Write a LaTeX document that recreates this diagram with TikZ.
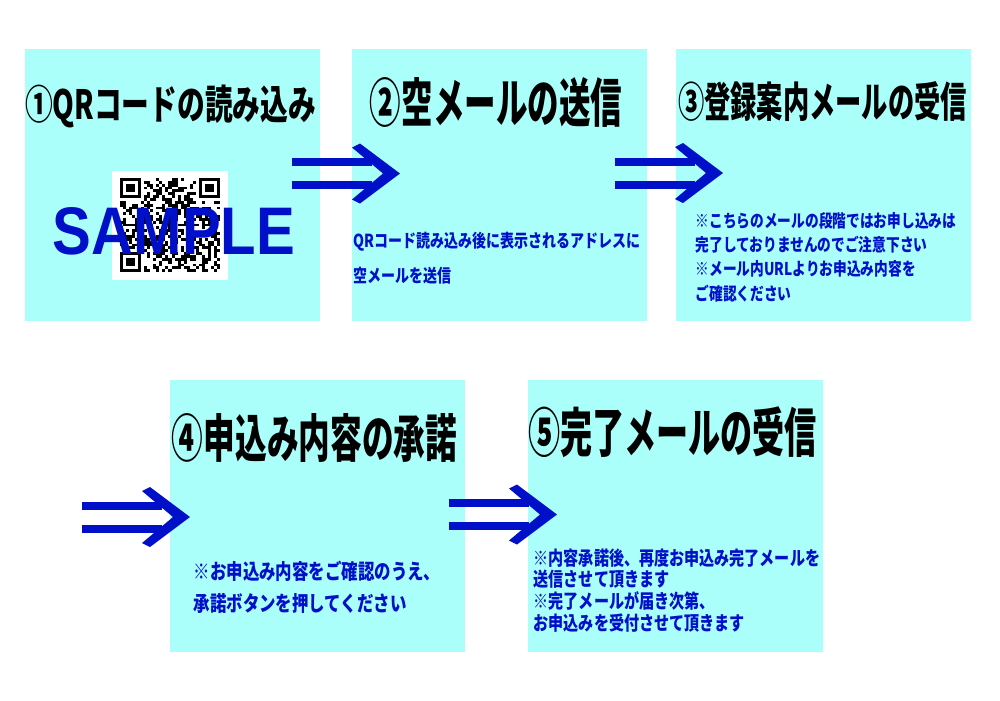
\documentclass[tikz,border=0pt]{standalone}
\usepackage{fontspec,graphicx}
\usetikzlibrary{positioning}
\setmainfont{Liberation Sans}
\newfontfamily\jptitle[FakeStretch=0.62]{Noto Sans CJK JP}
\newfontfamily\jpbody[FakeStretch=0.78]{Noto Sans CJK JP}
\definecolor{stepC}{RGB}{170,255,250}
\definecolor{stepB}{RGB}{0,16,200}
\newcommand{\steptitle}[3]{\resizebox*{#1}{#2}{\jptitle\bfseries #3}}

\begin{document}
\begin{tikzpicture}[scale=1.0,
  stepbox/.style={fill=stepC,draw=none,minimum width=2.95cm,minimum height=2.72cm,inner sep=0pt},
  titletext/.style={inner sep=0pt},
  bodytext/.style={text=stepB,align=left,anchor=base west,inner sep=0pt},
  pics/dblarrow/.style={code={
    \fill[stepB] (0,0.075) rectangle (0.80,0.155);
    \fill[stepB] (0,-0.075) rectangle (0.80,-0.155);
    \fill[stepB] (0.60,0.26)--(0.68,0.30)--(1.08,0)--(0.68,-0.30)--(0.60,-0.26)--(0.91,0)--cycle;
  }}]
\useasboundingbox (0,0) rectangle (10,7);
% the five steps
\node[stepbox] (s1) at (1.725,5.15) {};
\node[stepbox,right=0.31cm of s1] (s2) {};
\node[stepbox,right=0.27cm of s2] (s3) {};
\node[stepbox] (s4) at (3.17,1.84) {};
\node[stepbox,right=0.62cm of s4] (s5) {};
% QR sample: 33x33 modules, random fill with fixed seed
\fill[white] (1.12,4.20) rectangle (2.28,5.29);
\pgfmathsetseed{42}
\foreach \i in {0,...,32}
  \foreach \j in {0,...,32} {
    \pgfmathrandominteger{\qb}{0}{1}
    \ifnum\qb=1 \fill ({1.20+0.0303*\i},{5.22-0.0285*\j}) rectangle ++(0.0303,-0.0285); \fi
  }
\foreach \fx/\fy in {0/0,26/0,0/26} {
  \fill[white] ({1.20+0.0303*(\fx-1)},{5.22-0.0285*(\fy-1)}) rectangle ++(0.2727,-0.2565);
  \fill ({1.20+0.0303*\fx},{5.22-0.0285*\fy}) rectangle ++(0.2121,-0.1995);
  \fill[white] ({1.20+0.0303*(\fx+1)},{5.22-0.0285*(\fy+1)}) rectangle ++(0.1515,-0.1425);
  \fill ({1.20+0.0303*(\fx+2)},{5.22-0.0285*(\fy+2)}) rectangle ++(0.0909,-0.0855);
}
\node[inner sep=0pt,text=stepB] (sample) at (1.74,4.685) {\resizebox{2.42cm}{0.47cm}{\bfseries SAMPLE}};
% titles
\node[titletext] (t1) at (1.705,5.935) {\steptitle{2.91cm}{0.43cm}{①QRコードの読み込み}};
\node[titletext] (t2) at (4.96,5.98) {\steptitle{2.52cm}{0.50cm}{②空メールの送信}};
\node[titletext] (t3) at (8.225,5.98) {\steptitle{2.89cm}{0.40cm}{③登録案内メールの受信}};
\node[titletext] (t4) at (3.145,2.625) {\steptitle{2.85cm}{0.49cm}{④申込み内容の承諾}};
\node[titletext] (t5) at (6.725,2.675) {\steptitle{2.89cm}{0.51cm}{⑤完了メールの受信}};
% notes (base = last line)
\node[bodytext,font=\jpbody\bfseries\fontsize{5.1}{9.96}\selectfont] (n2) at (3.53,4.18)
  {QRコード読み込み後に表示されるアドレスに\\空メールを送信};
\node[bodytext,font=\jpbody\bfseries\fontsize{5.0}{6.9}\selectfont] (n3) at (6.95,3.998)
  {※こちらのメールの段階ではお申し込みは\\完了しておりませんのでご注意下さい\\※メール内URLよりお申込み内容を\\ご確認ください};
\node[bodytext,font=\jpbody\bfseries\fontsize{6.0}{9.1}\selectfont] (n4) at (1.93,0.89)
  {※お申込み内容をご確認のうえ、\\承諾ボタンを押してください};
\node[bodytext,font=\jpbody\bfseries\fontsize{5.5}{6.17}\selectfont] (n5) at (5.33,0.698)
  {※内容承諾後、再度お申込み完了メールを\\送信させて頂きます\\※完了メールが届き次第、\\お申込みを受付させて頂きます};
% arrows between the steps
\coordinate (a12) at (2.92,5.265);
\coordinate (a23) at (6.15,5.27);
\coordinate (a34) at (0.82,1.83);
\coordinate (a45) at (4.49,1.855);
\foreach \a in {a12,a23,a34,a45} \pic at (\a) {dblarrow};
\end{tikzpicture}
\end{document}
